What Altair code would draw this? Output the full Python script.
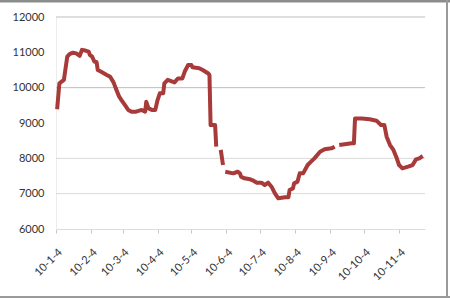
import altair as alt
import pandas as pd

# Data (None = gap in the series)
dates = [
    "2010-01-05", "2010-01-07", "2010-01-09", "2010-01-11", "2010-01-14", "2010-01-16",
    "2010-01-19", "2010-01-22", "2010-01-25", "2010-01-27", "2010-01-30", "2010-02-02",
    "2010-02-03", "2010-02-05", "2010-02-07", "2010-02-09", "2010-02-10", "2010-02-13",
    "2010-02-18", "2010-02-21", "2010-02-24", "2010-02-26", "2010-03-01", "2010-03-03",
    "2010-03-06", "2010-03-09", "2010-03-12", "2010-03-16", "2010-03-21", "2010-03-24",
    "2010-03-25", "2010-03-27", "2010-03-30", "2010-04-02", "2010-04-04", "2010-04-06",
    "2010-04-09", "2010-04-10", "2010-04-13", "2010-04-19", "2010-04-22", "2010-04-26",
    "2010-04-28", "2010-05-01", "2010-05-04", "2010-05-05", "2010-05-11", "2010-05-14",
    "2010-05-19", "2010-05-20", "2010-05-21", "2010-05-25", "2010-05-26", "2010-05-28",
    "2010-05-30", "2010-06-01", "2010-06-02", "2010-06-03", "2010-06-10", "2010-06-14",
    "2010-06-16", "2010-06-17", "2010-06-20", "2010-06-25", "2010-06-28", "2010-07-01",
    "2010-07-05", "2010-07-08", "2010-07-11", "2010-07-14", "2010-07-17", "2010-07-20",
    "2010-07-26", "2010-07-29", "2010-07-30", "2010-08-02", "2010-08-03", "2010-08-06",
    "2010-08-08", "2010-08-11", "2010-08-15", "2010-08-18", "2010-08-21", "2010-08-26",
    "2010-08-30", "2010-09-05", "2010-09-08", "2010-09-10", "2010-09-12", "2010-09-23",
    "2010-09-25", "2010-09-26", "2010-10-02", "2010-10-09", "2010-10-15", "2010-10-19",
    "2010-10-22", "2010-10-24", "2010-10-27", "2010-10-30", "2010-11-02", "2010-11-04",
    "2010-11-07", "2010-11-12", "2010-11-16", "2010-11-19", "2010-11-22", "2010-11-25",
]
values = [
    9390, 10120, 10170, 10220, 10880, 10950,
    10990, 10970, 10900, 11070, 11050, 11020,
    10930, 10880, 10740, 10720, 10500, 10450,
    10360, 10310, 10150, 9980, 9745, 9650,
    9510, 9370, 9320, 9320, 9370, 9320,
    9600, 9415, 9370, 9370, 9650, 9840,
    9840, 10120, 10220, 10150, 10260, 10260,
    10450, 10640, 10640, 10575, 10550, 10500,
    10400, 10360, 8940, 8940, 8330, None,
    8240, 7810, None, 7620, 7575, 7620,
    7575, 7480, 7434, 7406, 7367, 7311,
    7311, 7245, 7311, 7198, 7010, 6868,
    6897, 6897, 7104, 7151, 7292, 7340,
    7575, 7575, 7811, 7905, 8000, 8188,
    8255, 8283, 8330, None, 8377, 8424,
    8424, 9130, 9130, 9104, 9066, 8943,
    8943, 8613, 8377, 8236, 8000, 7811,
    7717, 7764, 7811, 7971, 8000, 8066,
]
tick_months = [1, 2, 3, 4, 5, 6, 7, 8, 9, 10, 11]
y_ticks = [6000, 7000, 8000, 9000, 10000, 11000, 12000]
grid_dark = [10000, 12000]
grid_light = [7000, 8000]

df = pd.DataFrame({"date": dates, "value": values})

W, H = 369, 212
PAD = {"left": 56, "top": 17, "right": 25, "bottom": 71}

xscale = alt.Scale(
    type="utc",
    domain=[alt.DateTime(year=2010, month=1, date=4, utc=True),
            alt.DateTime(year=2010, month=11, date=27, utc=True)],
)
yscale = alt.Scale(domain=[6000, 12000], nice=False)

yaxis = alt.Axis(
    values=y_ticks, labelOverlap=False, tickCount=7,
    format="d", ticks=False, grid=False, domainColor="#ececec",
    labelPadding=12, labelColor="#333333", labelFontSize=11, labelFont="Lato",
)

line = alt.Chart(df).mark_line(
    color="#a93a3a", strokeWidth=4, strokeJoin="round", strokeCap="butt",
    invalid="break-paths-filter-domains",
).encode(
    x=alt.X("date:T", scale=xscale, title=None,
            axis=alt.Axis(
                values=[alt.DateTime(year=2010, month=m, date=4, utc=True) for m in tick_months],
                labelExpr="utcFormat(datum.value, '%y-%-m-%-d')",
                labelAngle=-45, labelPadding=13, tickSize=4, tickColor="#c8c8c8",
                domainColor="#dcdcdc", grid=False, labelOverlap=False,
                labelColor="#333333", labelFontSize=11, labelFont="Lato",
            )),
    y=alt.Y("value:Q", scale=yscale, title=None, axis=yaxis),
)

g1 = alt.Chart(pd.DataFrame({"v": grid_dark})).mark_rule(color="#bdbdbd", strokeWidth=1).encode(
    y=alt.Y("v:Q", scale=yscale, title=None, axis=yaxis))
g2 = alt.Chart(pd.DataFrame({"v": grid_light})).mark_rule(color="#d9d9d9", strokeWidth=1).encode(
    y=alt.Y("v:Q", scale=yscale, title=None, axis=yaxis))

one = pd.DataFrame({"a": [0]})
top_b = alt.Chart(one).mark_rule(color="#8c8c8c", strokeWidth=3).encode(
    x=alt.value(-PAD["left"]), x2=alt.value(W + PAD["right"]),
    y=alt.value(-PAD["top"] + 1))
bot_b = alt.Chart(one).mark_rule(color="#9a9a9a", strokeWidth=2).encode(
    x=alt.value(-PAD["left"]), x2=alt.value(W + PAD["right"]),
    y=alt.value(H + PAD["bottom"] - 3))
right_b = alt.Chart(one).mark_rule(color="#9a9a9a", strokeWidth=2).encode(
    x=alt.value(W + PAD["right"] - 3),
    y=alt.value(-PAD["top"]), y2=alt.value(H + PAD["bottom"] - 3))

chart = alt.layer(g1, g2, line, top_b, bot_b, right_b).properties(
    width=W, height=H, autosize=alt.AutoSizeParams(type="none"), padding=PAD,
    background="white",
).configure_view(stroke=None).configure_axis(labelOverlap=False)

chart.save("out.html", embed_options={"renderer": "svg", "actions": False})
